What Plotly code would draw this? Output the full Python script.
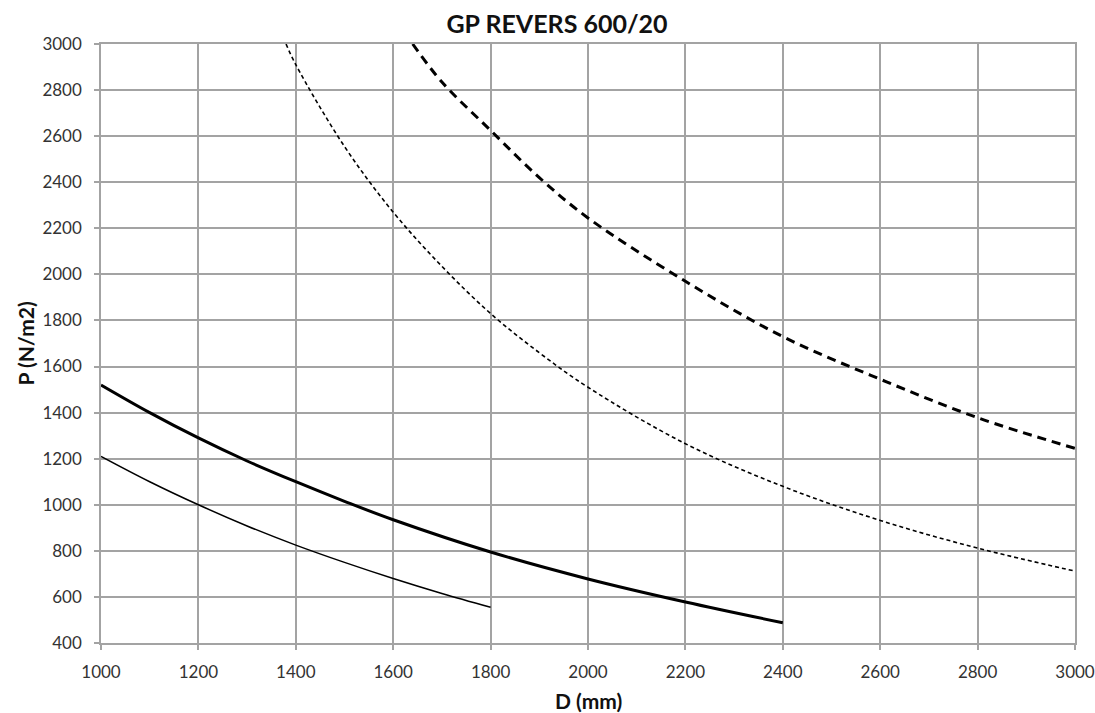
import plotly.graph_objects as go

# Thin solid curve
d_thin_solid = [1000, 1100, 1200, 1300, 1400, 1500, 1600, 1700, 1800]
p_thin_solid = [1210, 1100, 1000, 908, 825, 750, 680, 615, 555]

# Thick solid curve
d_thick_solid = [1000, 1100, 1200, 1300, 1400, 1500, 1600, 1800, 2000, 2200, 2400]
p_thick_solid = [1520, 1400, 1290, 1190, 1100, 1015, 935, 795, 678, 578, 488]

# Thin dashed curve
d_thin_dash = [1380, 1400, 1500, 1600, 1700, 1800, 1900, 2000, 2200, 2400, 2600, 2800, 3000]
p_thin_dash = [3000, 2910, 2555, 2270, 2035, 1830, 1660, 1510, 1265, 1080, 932, 812, 712]

# Thick dashed curve
d_thick_dash = [1640, 1700, 1800, 1900, 2000, 2200, 2400, 2600, 2800, 3000]
p_thick_dash = [3000, 2835, 2625, 2420, 2245, 1970, 1730, 1545, 1378, 1245]

x_ticks = [1000, 1200, 1400, 1600, 1800, 2000, 2200, 2400, 2600, 2800, 3000]
y_ticks = list(range(400, 3001, 200))

title_text = "GP REVERS 600/20"
x_title = "D (mm)"
y_title = "P (N/m2)"

W, H = 1095, 713
L, R, T, B = 101, 20, 44, 70

fig = go.Figure()
fig.add_trace(go.Scatter(x=d_thin_solid, y=p_thin_solid, mode="lines",
                         line=dict(color="black", width=1.5, shape="spline")))
fig.add_trace(go.Scatter(x=d_thick_solid, y=p_thick_solid, mode="lines",
                         line=dict(color="black", width=3, shape="spline")))
fig.add_trace(go.Scatter(x=d_thin_dash, y=p_thin_dash, mode="lines",
                         line=dict(color="black", width=1.6, dash="4px,3px", shape="spline")))
fig.add_trace(go.Scatter(x=d_thick_dash, y=p_thick_dash, mode="lines",
                         line=dict(color="black", width=3, dash="9px,6px", shape="spline")))

grid = "#a3a3a3"
font_family = "Lato, 'Open Sans', sans-serif"
fig.update_layout(
    width=W, height=H,
    paper_bgcolor="white", plot_bgcolor="white",
    showlegend=False,
    margin=dict(l=L, r=R, t=T, b=B),
    font=dict(family=font_family, color="#222"),
    title=dict(text="<b>" + title_text + "</b>", x=557 / W, xanchor="center", xref="container",
               y=1 - 24 / H, yanchor="middle", yref="container",
               font=dict(size=25, color="#111")),
    xaxis=dict(range=[1000, 3000], tickvals=x_ticks, showgrid=True, gridcolor=grid,
               gridwidth=1.5, showline=True, linecolor=grid, linewidth=1.5, mirror=True,
               ticks="outside", ticklen=5, tickcolor=grid, tickwidth=1.5,
               ticklabelstandoff=8, automargin=False,
               tickfont=dict(size=17, color="#333"), zeroline=False),
    yaxis=dict(range=[400, 3000], tickvals=y_ticks, showgrid=True, gridcolor=grid,
               gridwidth=1.5, showline=True, linecolor=grid, linewidth=1.5, mirror=True,
               ticks="outside", ticklen=5, tickcolor=grid, tickwidth=1.5,
               ticklabelstandoff=9, automargin=False,
               tickfont=dict(size=17, color="#333"), zeroline=False),
    annotations=[
        dict(text="<b>" + x_title + "</b>", xref="paper", yref="paper", x=0.5, y=0,
             xanchor="center", yanchor="middle", yshift=-57, showarrow=False,
             font=dict(size=21, color="#111")),
        dict(text="<b>" + y_title + "</b>", xref="paper", yref="paper", x=0, y=0.5,
             xanchor="center", yanchor="middle", xshift=-76, textangle=-90, showarrow=False,
             font=dict(size=21, color="#111")),
    ],
)

fig.write_html("out.html", config={"displayModeBar": False},
               post_script="document.body.style.margin='0';")
